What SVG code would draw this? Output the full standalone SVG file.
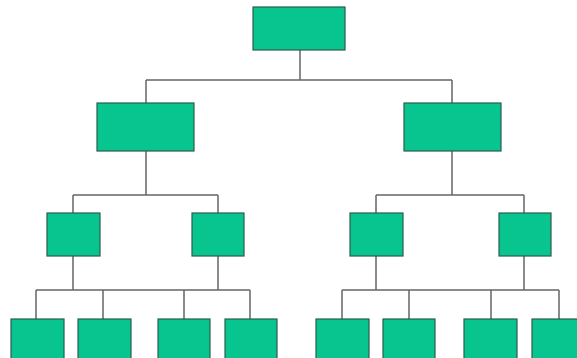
<svg xmlns="http://www.w3.org/2000/svg" width="577" height="358" viewBox="0 0 577 358">
<style>
.n{fill:#08c48f;stroke:#2b5e4c;stroke-width:1.2}
.c{fill:none;stroke:#666;stroke-width:1.5}
</style>
<rect width="577" height="358" fill="#fff"/>
<g id="connectors" class="c">
<path d="M300 50V80M146 80H452M146 80V103M452 80V103"/>
<path d="M146 151V195M73 195H218M73 195V213M218 195V213"/>
<path d="M452 151V195M376 195H524M376 195V213M524 195V213"/>
<path d="M73 256V290M218 256V290M36 290H250M36 290V319M103 290V319M184 290V319M250 290V319"/>
<path d="M376 256V290M524 256V290M342 290H559M342 290V319M409 290V319M491 290V319M559 290V319"/>
</g>
<g id="root"><rect class="n" x="253" y="7" width="92" height="43"/></g>
<g id="l1a"><rect class="n" x="97" y="103" width="97" height="48"/></g>
<g id="l1b"><rect class="n" x="404" y="103" width="97" height="48"/></g>
<g id="l2a"><rect class="n" x="47" y="213" width="53" height="43"/></g>
<g id="l2b"><rect class="n" x="192" y="213" width="52" height="43"/></g>
<g id="l2c"><rect class="n" x="350" y="213" width="53" height="43"/></g>
<g id="l2d"><rect class="n" x="499" y="213" width="52" height="43"/></g>
<g id="leaf1"><rect class="n" x="11" y="319" width="53" height="50"/></g>
<g id="leaf2"><rect class="n" x="78" y="319" width="53" height="50"/></g>
<g id="leaf3"><rect class="n" x="158" y="319" width="52" height="50"/></g>
<g id="leaf4"><rect class="n" x="225" y="319" width="52" height="50"/></g>
<g id="leaf5"><rect class="n" x="316" y="319" width="53" height="50"/></g>
<g id="leaf6"><rect class="n" x="383" y="319" width="52" height="50"/></g>
<g id="leaf7"><rect class="n" x="464" y="319" width="53" height="50"/></g>
<g id="leaf8"><rect class="n" x="532" y="319" width="53" height="50"/></g>
</svg>
